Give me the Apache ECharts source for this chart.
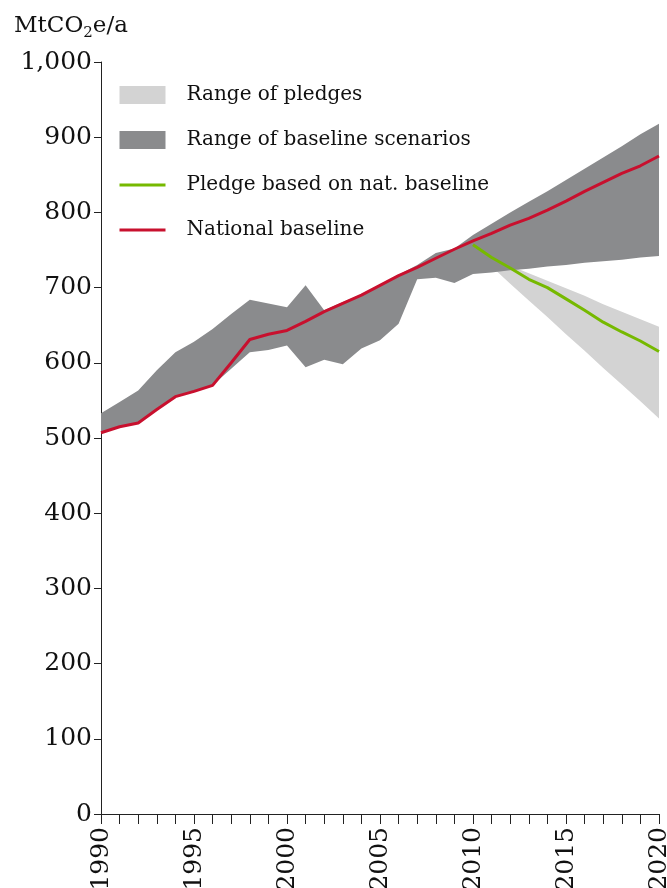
<!DOCTYPE html>
<html>
<head>
<meta charset="utf-8">
<script src="https://cdn.jsdelivr.net/npm/echarts@6/dist/echarts.min.js"></script>
<style>
  html, body { margin: 0; padding: 0; background: #fff; }
  #chart_box { width: 667px; height: 888px; }
</style>
</head>
<body>
<div id="chart_box"></div>
<script>
// data (MtCO2e per year)
var years = ['1990','1991','1992','1993','1994','1995','1996','1997','1998','1999',
             '2000','2001','2002','2003','2004','2005','2006','2007','2008','2009',
             '2010','2011','2012','2013','2014','2015','2016','2017','2018','2019','2020'];

var nationalBaseline = [507,515,520,538,555,562,570,600,631,638,
                        643,655,668,679,690,703,716,727,739,751,
                        762,772,783,792,803,815,828,840,852,862,875];

var pledgeLine = ['-','-','-','-','-','-','-','-','-','-',
                  '-','-','-','-','-','-','-','-','-','-',
                  757,740,726,711,700,685,670,654,641,629,615];

var baselineLow = [508,515,520,538,555,562,570,592,614,617,
                   623,594,604,598,619,630,652,711,713,706,
                   718,720,723,725,728,730,733,735,737,740,742];

var baselineHigh = [533,548,563,590,614,628,645,665,684,679,
                    674,703,670,681,691,704,717,730,746,752,
                    770,785,800,814,828,843,858,873,888,904,918];

var pledgeLow = ['-','-','-','-','-','-','-','-','-','-',
                 '-','-','-','-','-','-','-','-','-','-',
                 750,728,705,683,661,638,616,593,571,549,526];

var pledgeHigh = ['-','-','-','-','-','-','-','-','-','-',
                  '-','-','-','-','-','-','-','-','-','-',
                  750,740,729,719,709,699,689,678,668,658,648];

var yTicks = [0,100,200,300,400,500,600,700,800,900,1000];

window.onload = function(){
    var myChart = echarts.init(document.getElementById('chart_box'));
    var font = 'DejaVu Serif';

    // band widths for the stacked areas
    function spread(lo, hi){
        return lo.map(function(v, i){
            return v === '-' ? '-' : hi[i] - v;
        });
    }

    var option = {
        animation: false,
        title: {
            text: 'MtCO{s|2}e/a',
            left: 9,
            top: 6,
            textStyle: {
                fontFamily: font,
                fontSize: 23,
                fontWeight: 'normal',
                color: '#111',
                lineHeight: 30,
                rich: {
                    s: { fontFamily: font, fontSize: 15, color: '#111', verticalAlign: 'bottom', lineHeight: 12 }
                }
            }
        },
        legend: {
            orient: 'vertical',
            left: 113,
            top: 80,
            itemWidth: 46,
            itemHeight: 18,
            itemGap: 25,
            textStyle: { fontFamily: font, fontSize: 20, color: '#111', padding: [0, 0, 0, 16] },
            data: [
                { name: 'Range of pledges', icon: 'rect' },
                { name: 'Range of baseline scenarios', icon: 'rect' },
                { name: 'Pledge based on nat. baseline', itemStyle: { opacity: 0 }, lineStyle: { width: 3 } },
                { name: 'National baseline', itemStyle: { opacity: 0 }, lineStyle: { width: 3 } }
            ]
        },
        grid: { left: 101, right: 8, top: 62, bottom: 74, outerBoundsMode: 'none' },
        xAxis: {
            type: 'category',
            boundaryGap: false,
            data: years,
            axisLine: { lineStyle: { color: '#222', width: 1 } },
            axisTick: { interval: 0, length: 10, lineStyle: { color: '#222' } },
            axisLabel: {
                interval: 4,
                rotate: 90,
                margin: 13,
                fontFamily: font,
                fontSize: 25,
                color: '#111'
            }
        },
        yAxis: {
            type: 'value',
            min: yTicks[0],
            max: yTicks[yTicks.length - 1],
            interval: 100,
            splitLine: { show: false },
            axisLine: { show: true, lineStyle: { color: '#222', width: 1 } },
            axisTick: { show: true, length: 7, lineStyle: { color: '#222' } },
            axisLabel: {
                margin: 9,
                fontFamily: font,
                fontSize: 25,
                color: '#111',
                formatter: function(v){ return v >= 1000 ? '1,000' : String(v); }
            }
        },
        series: [
            {
                name: 'pledgeBase', type: 'line', stack: 'pledge', data: pledgeLow,
                symbol: 'none', lineStyle: { width: 0, opacity: 0 }, silent: true, z: 1
            },
            {
                name: 'Range of pledges', type: 'line', stack: 'pledge', data: spread(pledgeLow, pledgeHigh),
                symbol: 'none', color: '#d3d3d3', itemStyle: { color: '#d3d3d3' },
                lineStyle: { width: 0, opacity: 0 },
                areaStyle: { color: '#d3d3d3', opacity: 1 }, z: 1
            },
            {
                name: 'baseBase', type: 'line', stack: 'base', data: baselineLow,
                symbol: 'none', lineStyle: { width: 0, opacity: 0 }, silent: true, z: 2
            },
            {
                name: 'Range of baseline scenarios', type: 'line', stack: 'base', data: spread(baselineLow, baselineHigh),
                symbol: 'none', color: '#8a8b8d', itemStyle: { color: '#8a8b8d' },
                lineStyle: { width: 0, opacity: 0 },
                areaStyle: { color: '#8a8b8d', opacity: 1 }, z: 2
            },
            {
                name: 'Pledge based on nat. baseline', type: 'line', data: pledgeLine,
                symbol: 'none', color: '#76b900',
                lineStyle: { color: '#76b900', width: 3 }, z: 3
            },
            {
                name: 'National baseline', type: 'line', data: nationalBaseline,
                symbol: 'none', color: '#c8102e',
                lineStyle: { color: '#c8102e', width: 3 }, z: 4
            }
        ]
    };
    myChart.setOption(option);
};
</script>
</body>
</html>
